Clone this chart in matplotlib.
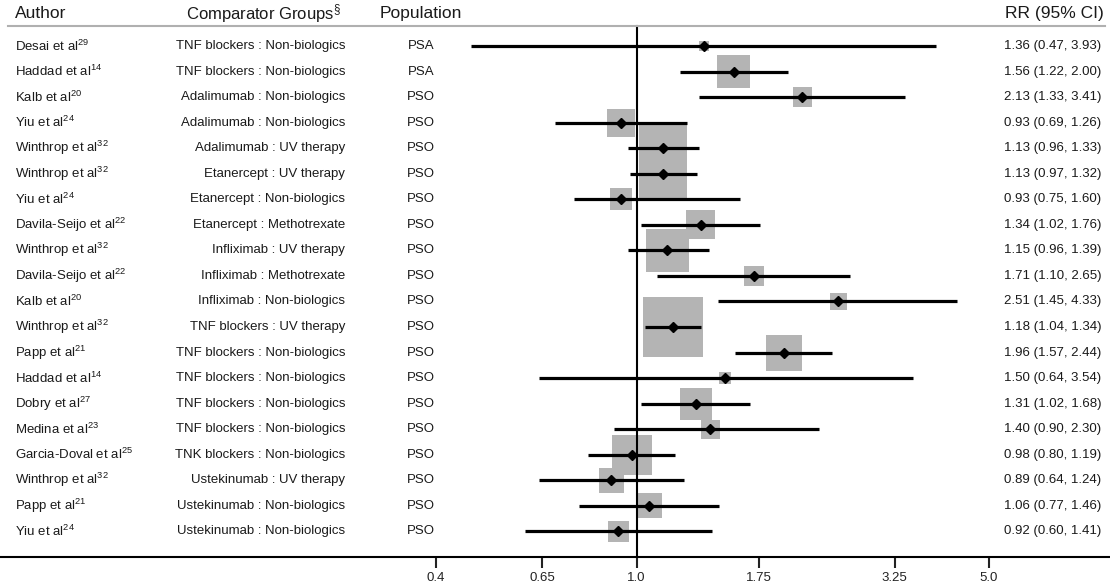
import numpy as np
import matplotlib
matplotlib.use("Agg")
import matplotlib.pyplot as plt
from matplotlib.transforms import blended_transform_factory

plt.rcParams['font.family'] = ['Liberation Sans', 'DejaVu Sans']
plt.rcParams['mathtext.fontset'] = 'custom'
plt.rcParams['mathtext.rm'] = 'Liberation Sans'
plt.rcParams['mathtext.it'] = 'Liberation Sans:italic'
plt.rcParams['mathtext.bf'] = 'Liberation Sans:bold'

# --- study data (top to bottom) ---
authors = ["Desai et al", "Haddad et al", "Kalb et al", "Yiu et al", "Winthrop et al",
           "Winthrop et al", "Yiu et al", "Davila-Seijo et al", "Winthrop et al",
           "Davila-Seijo et al", "Kalb et al", "Winthrop et al", "Papp et al",
           "Haddad et al", "Dobry et al", "Medina et al", "Garcia-Doval et al",
           "Winthrop et al", "Papp et al", "Yiu et al"]
refs = ["29", "14", "20", "24", "32", "32", "24", "22", "32", "22",
        "20", "32", "21", "14", "27", "23", "25", "32", "21", "24"]
comparators = ["TNF blockers : Non-biologics", "TNF blockers : Non-biologics",
               "Adalimumab : Non-biologics", "Adalimumab : Non-biologics",
               "Adalimumab : UV therapy", "Etanercept : UV therapy",
               "Etanercept : Non-biologics", "Etanercept : Methotrexate",
               "Infliximab : UV therapy", "Infliximab : Methotrexate",
               "Infliximab : Non-biologics", "TNF blockers : UV therapy",
               "TNF blockers : Non-biologics", "TNF blockers : Non-biologics",
               "TNF blockers : Non-biologics", "TNF blockers : Non-biologics",
               "TNK blockers : Non-biologics", "Ustekinumab : UV therapy",
               "Ustekinumab : Non-biologics", "Ustekinumab : Non-biologics"]
populations = ["PSA", "PSA"] + ["PSO"] * 18
rr = [1.36, 1.56, 2.13, 0.93, 1.13, 1.13, 0.93, 1.34, 1.15, 1.71,
      2.51, 1.18, 1.96, 1.50, 1.31, 1.40, 0.98, 0.89, 1.06, 0.92]
ci_lo = [0.47, 1.22, 1.33, 0.69, 0.96, 0.97, 0.75, 1.02, 0.96, 1.10,
         1.45, 1.04, 1.57, 0.64, 1.02, 0.90, 0.80, 0.64, 0.77, 0.60]
ci_hi = [3.93, 2.00, 3.41, 1.26, 1.33, 1.32, 1.60, 1.76, 1.39, 2.65,
         4.33, 1.34, 2.44, 3.54, 1.68, 2.30, 1.19, 1.24, 1.46, 1.41]
# study weights (%), box area proportional to weight
weights = [0.5, 5.3, 1.8, 3.8, 11.2, 11.2, 2.4, 4.1, 9.0, 2.0,
           1.4, 17.5, 6.3, 0.7, 5.0, 1.8, 7.8, 3.0, 3.0, 2.2]

xticks = [0.4, 0.65, 1.0, 1.75, 3.25, 5.0]
xtick_labels = ["0.4", "0.65", "1.0", "1.75", "3.25", "5.0"]

W, H = 1110, 588
rows = np.arange(1, len(authors) + 1)

fig = plt.figure(figsize=(W / 100, H / 100), dpi=100)
ax = fig.add_axes([0, 1 - 557 / H, 1, 557 / H])
ax.set_xscale('log')
ax.set_xlim(0.0546, 8.69)
ax.set_ylim(21.0, -0.80)

# boxes (side in points from weight)
side_pt = 14.33 * np.sqrt(np.array(weights)) * 0.72
ax.scatter(rr, rows, s=side_pt ** 2, marker='s', color='#b4b4b4',
           linewidths=0, zorder=1)
# reference line
ax.plot([1, 1], [0.215, 21.0], color='black', lw=1.5, zorder=2)
# confidence intervals
ax.hlines(rows, ci_lo, ci_hi, color='black', lw=2.3, zorder=3)
ax.plot(rr, rows, 'D', color='black', ms=5.5, zorder=4)

# header line
ax.axhline(0.215, xmin=8 / W, xmax=1105 / W, color='#b0b0b0', lw=1.5)

# axes styling
for s in ['top', 'left', 'right']:
    ax.spines[s].set_visible(False)
ax.spines['bottom'].set_linewidth(1.5)
ax.set_yticks([])
ax.set_xticks(xticks)
ax.set_xticklabels(xtick_labels)
ax.xaxis.set_minor_locator(matplotlib.ticker.NullLocator())
ax.tick_params(axis='x', length=8, width=1.5, pad=3, labelsize=9.5, colors='#222222')

tr = blended_transform_factory(ax.transAxes, ax.transData)
txt = '#1a1a1a'

# headers
hy = -0.28
ax.text(15 / W, hy, "Author", transform=tr, fontsize=12.5, color=txt, va='center', ha='left')
ax.text(186 / W, hy, "Comparator Groups$^{\\S}$", transform=tr, fontsize=12, color=txt,
        va='center', ha='left')
ax.text(421 / W, hy, "Population", transform=tr, fontsize=12.5, color=txt, va='center', ha='center')
ax.text(1104 / W, hy, "RR (95% CI)", transform=tr, fontsize=12.5, color=txt, va='center', ha='right')

for i, y in enumerate(rows):
    ax.text(15 / W, y, f"{authors[i]}$^{{{refs[i]}}}$", transform=tr, fontsize=9.5,
            color=txt, va='center', ha='left')
    ax.text(345 / W, y, comparators[i], transform=tr, fontsize=9.5,
            color=txt, va='center', ha='right')
    ax.text(421 / W, y, populations[i], transform=tr, fontsize=9.5,
            color=txt, va='center', ha='center')
    ax.text(1004 / W, y, f"{rr[i]:.2f} ({ci_lo[i]:.2f}, {ci_hi[i]:.2f})", transform=tr,
            fontsize=9.5, color=txt, va='center', ha='left')

fig.savefig("out.png", dpi=100)
